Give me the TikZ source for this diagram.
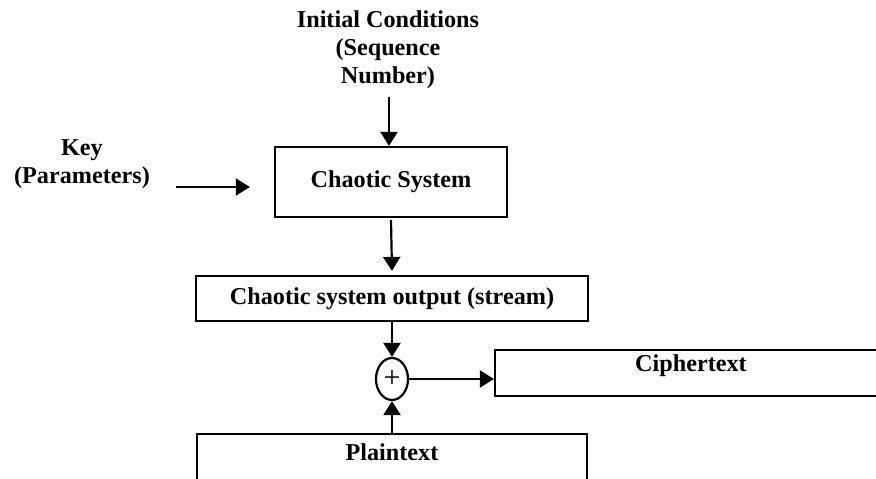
\documentclass[tikz,border=0pt]{standalone}
\usepackage{fontspec}
\setmainfont{Liberation Serif}
\usetikzlibrary{arrows.meta,shapes.geometric}
\begin{document}
\begin{tikzpicture}[x=1pt,y=-1pt,
  lbl/.style={font=\fontsize{24.2}{28}\selectfont\bfseries, align=center, inner sep=0pt},
  box/.style={draw, line width=2.2pt, inner sep=0pt, font=\fontsize{24.2}{28}\selectfont\bfseries},
  flow/.style={-{Triangle[length=14pt,width=17pt]}, line width=2.2pt}]
\useasboundingbox (0,0) rectangle (876,479);
\clip (0,0) rectangle (876,479);

% inputs
\node[lbl] (ic) at (388,50) {Initial Conditions\\(Sequence\\Number)};
\node[lbl] (key) at (82,164) {Key\\(Parameters)};

% blocks
\node[box, minimum width=232pt, minimum height=70pt] (cs) at (391,182) {Chaotic System};
\node[box, minimum width=392pt, minimum height=45pt] (out) at (392,298.5) {Chaotic system output (stream)};
\node[draw, ellipse, line width=2.2pt, minimum width=32pt, minimum height=42pt, inner sep=0pt,
      font=\fontsize{30}{30}\selectfont] (xor) at (392,379) {+};
\node[box, minimum width=392pt, minimum height=46pt] (ct) at (691,373) {};
\node[lbl] (cttext) at (691,366) {Ciphertext};
\node[box, minimum width=390pt, minimum height=56pt] (pt) at (392,462) {};
\node[lbl] (pttext) at (392,452) {Plaintext};

% connectors
\coordinate (ic0) at (389,97);
\coordinate (k0) at (176,187);
\draw[flow] (ic0) -- (ic0 |- cs.north);
\draw[flow] (k0) -- ([xshift=-24pt]cs.west |- k0);
\draw[flow] ([yshift=-2pt]cs.south) -- ([yshift=4pt]out.north);
\draw[flow] (out.south) -- (xor.north);
\draw[flow] (xor.east) -- (ct.west |- xor.east);
\draw[flow] (pt.north) -- (xor.south);
\end{tikzpicture}
\end{document}
